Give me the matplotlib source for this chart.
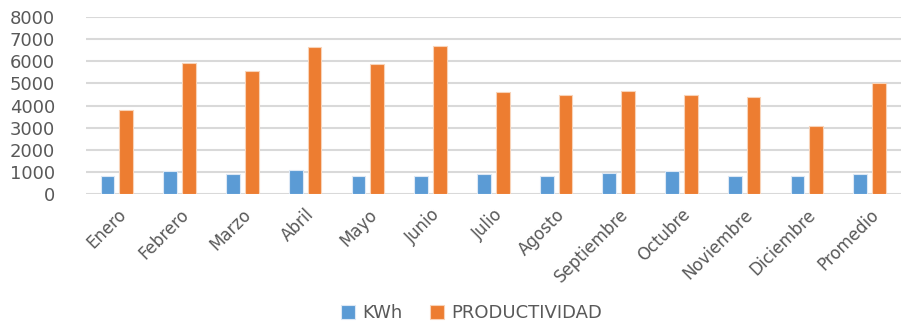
import matplotlib.pyplot as plt
import numpy as np

meses = ['Enero', 'Febrero', 'Marzo', 'Abril', 'Mayo', 'Junio', 'Julio',
         'Agosto', 'Septiembre', 'Octubre', 'Noviembre', 'Diciembre', 'Promedio']
kwh = [850, 1050, 940, 1120, 850, 850, 925, 850, 985, 1050, 850, 850, 925]
productividad = [3800, 5940, 5580, 6640, 5870, 6700, 4620, 4470, 4680, 4470, 4400, 3070, 5030]

fig = plt.figure(figsize=(9.01, 3.24), dpi=100)
ax = fig.add_axes([0.095, 0.40, 0.905, 0.548])

x = np.arange(len(meses))
w = 0.22
ax.bar(x - 0.15, kwh, w, color='#5B9BD5', edgecolor='#DCE8F5', linewidth=0.8, label='KWh', zorder=3)
ax.bar(x + 0.15, productividad, w, color='#ED7D31', edgecolor='#F8D3B8', linewidth=0.8, label='PRODUCTIVIDAD', zorder=3)

ax.set_ylim(0, 8000)
ax.set_yticks(range(0, 8001, 1000))
ax.set_xlim(-0.5, len(meses) - 0.5)
ax.set_xticks(x)
ax.set_xticklabels(meses, rotation=45, ha='right', rotation_mode='anchor')
ax.grid(axis='y', color='#D9D9D9', linewidth=1.5, zorder=0)
for s in ax.spines.values():
    s.set_visible(False)
ax.tick_params(length=0, colors='#595959')
ax.tick_params(axis='y', labelsize=13, pad=22)
ax.tick_params(axis='x', labelsize=12, pad=8)

ax.legend(loc='center', bbox_to_anchor=(0.473, -0.67), ncol=2, frameon=False,
          fontsize=13, handlelength=0.8, handleheight=0.8, columnspacing=1.5,
          handletextpad=0.4, labelcolor='#595959')

plt.savefig('out.png')
